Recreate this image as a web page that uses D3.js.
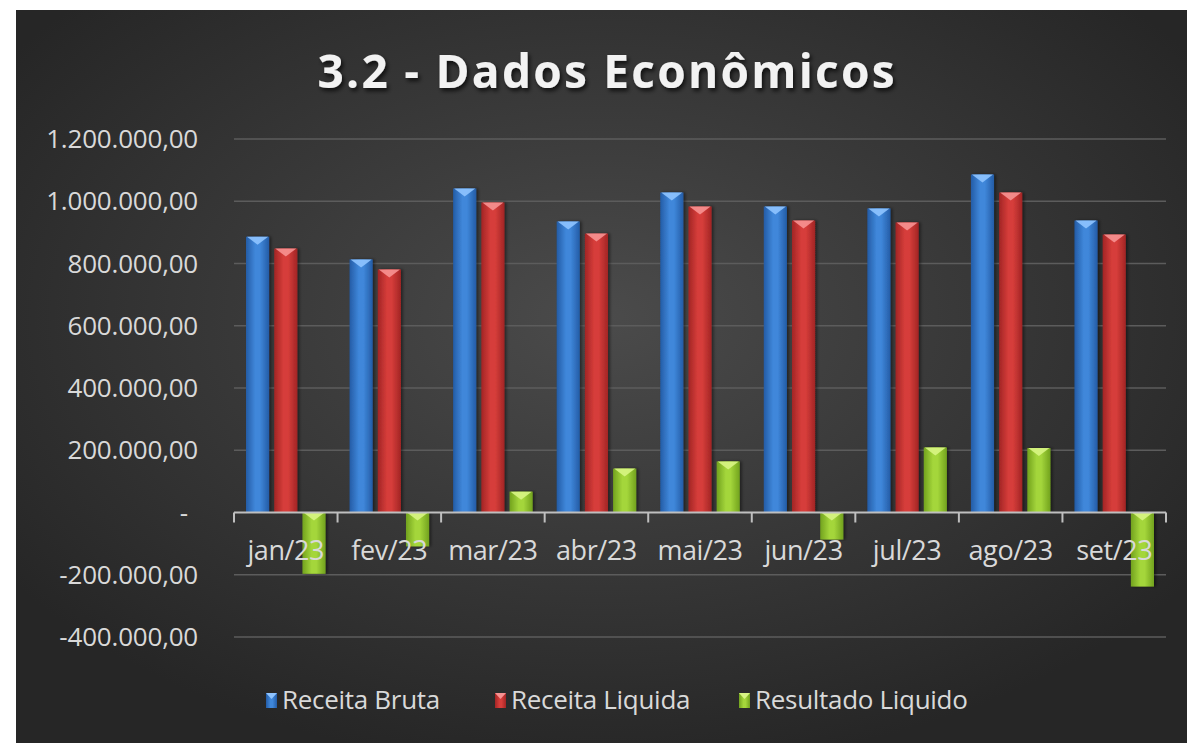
<!DOCTYPE html>
<html>
<head>
<meta charset="utf-8">
<script src="https://cdn.jsdelivr.net/npm/d3@7"></script>
<style>
  body { margin: 0; background: #fff; }
  svg { display: block; }
</style>
</head>
<body>
<div id="vis"></div>
<script>
var width = 1187,
	height = 743;

// data
var months = ['jan/23', 'fev/23', 'mar/23', 'abr/23', 'mai/23', 'jun/23', 'jul/23', 'ago/23', 'set/23'];
var seriesNames = ['Receita Bruta', 'Receita Liquida', 'Resultado Liquido'];
var receitaBruta = [886000, 813000, 1041000, 935000, 1028000, 983000, 977000, 1086000, 938000];
var receitaLiquida = [848000, 781000, 996000, 896000, 983000, 938000, 932000, 1028000, 893000];
var resultadoLiquido = [-197000, -109000, 67000, 141000, 164000, -87000, 209000, 207000, -238000];
var yTicks = [-400000, -200000, 0, 200000, 400000, 600000, 800000, 1000000, 1200000];
var yTickLabels = ['-400.000,00', '-200.000,00', '-', '200.000,00', '400.000,00', '600.000,00', '800.000,00', '1.000.000,00', '1.200.000,00'];

var seriesValues = [receitaBruta, receitaLiquida, resultadoLiquido];

var colors = [
	{ edge: '#245ca6', mid: '#3f87da', top: '#8fc4ff' },
	{ edge: '#a22525', mid: '#d63d3a', top: '#f79292' },
	{ edge: '#72a21e', mid: '#a4d63b', top: '#d8f584' }
];

var margin = { left: 234, right: 21, top: 139, bottom: 106 };

var svg = d3.select('#vis')
	.append('svg')
	.attr('width', width)
	.attr('height', height);

var defs = svg.append('defs');

var bg = defs.append('radialGradient')
	.attr('id', 'bg')
	.attr('cx', '50%').attr('cy', '42%').attr('r', '62%');
bg.append('stop').attr('offset', '0%').attr('stop-color', '#4b4b4b');
bg.append('stop').attr('offset', '100%').attr('stop-color', '#262626');

colors.forEach(function(c, i) {
	var lg = defs.append('linearGradient')
		.attr('id', 'bar' + i)
		.attr('x1', '0%').attr('x2', '100%').attr('y1', '0%').attr('y2', '0%');
	lg.append('stop').attr('offset', '0%').attr('stop-color', c.edge);
	lg.append('stop').attr('offset', '40%').attr('stop-color', c.mid);
	lg.append('stop').attr('offset', '60%').attr('stop-color', c.mid);
	lg.append('stop').attr('offset', '100%').attr('stop-color', c.edge);
});

var shadow = defs.append('filter').attr('id', 'shadow')
	.attr('x', '-10%').attr('y', '-20%').attr('width', '120%').attr('height', '150%');
shadow.append('feDropShadow')
	.attr('dx', 2).attr('dy', 3).attr('stdDeviation', 2)
	.attr('flood-color', '#000').attr('flood-opacity', 0.7);

var barShadow = defs.append('filter').attr('id', 'barShadow')
	.attr('x', '-30%').attr('y', '-5%').attr('width', '160%').attr('height', '110%');
barShadow.append('feDropShadow')
	.attr('dx', 2).attr('dy', 0).attr('stdDeviation', 1.5)
	.attr('flood-color', '#000').attr('flood-opacity', 0.45);

svg.append('rect')
	.attr('x', 16).attr('y', 10)
	.attr('width', width - 16).attr('height', height - 10)
	.attr('fill', 'url(#bg)');

var xScale = d3.scaleBand()
	.domain(months)
	.range([margin.left, width - margin.right])
	.paddingInner(0)
	.paddingOuter(0);

var inner = d3.scaleBand()
	.domain(d3.range(seriesNames.length))
	.range([12, xScale.bandwidth() - 12])
	.paddingInner(0.18);

var yScale = d3.scaleLinear()
	.domain([-400000, 1200000])
	.range([height - margin.bottom, margin.top]);

// gridlines
svg.append('g')
	.selectAll('line')
	.data(yTicks.filter(function(d) { return d !== 0; }))
	.enter().append('line')
	.attr('x1', margin.left)
	.attr('x2', width - margin.right)
	.attr('y1', function(d) { return yScale(d); })
	.attr('y2', function(d) { return yScale(d); })
	.attr('stroke', '#5c5c5c')
	.attr('stroke-width', 1.5);

// y labels
svg.append('g')
	.selectAll('text')
	.data(yTicks)
	.enter().append('text')
	.attr('x', function(d) { return d === 0 ? 188 : 198; })
	.attr('y', function(d) { return yScale(d); })
	.attr('dy', '0.35em')
	.attr('text-anchor', 'end')
	.attr('fill', '#d9d9d9')
	.attr('font-family', 'Open Sans, sans-serif')
	.attr('font-size', 26)
	.style('letter-spacing', '-0.2px')
	.text(function(d, i) { return yTickLabels[i]; });

// bars
var groups = svg.append('g')
	.selectAll('g')
	.data(seriesValues)
	.enter().append('g');

var bars = groups.selectAll('g')
	.data(function(vals, si) { return vals.map(function(v, mi) { return { s: si, m: mi, v: v }; }); })
	.enter().append('g')
	.attr('filter', 'url(#barShadow)');

bars.append('rect')
	.attr('x', function(d) { return xScale(months[d.m]) + inner(d.s); })
	.attr('y', function(d) { return yScale(Math.max(0, d.v)); })
	.attr('width', inner.bandwidth())
	.attr('height', function(d) { return Math.abs(yScale(d.v) - yScale(0)); })
	.attr('fill', function(d) { return 'url(#bar' + d.s + ')'; });

bars.append('path')
	.attr('d', function(d) {
		var x = xScale(months[d.m]) + inner(d.s),
			y = yScale(Math.max(0, d.v)),
			w = inner.bandwidth();
		return 'M' + (x + 1) + ',' + y + 'L' + (x + w - 1) + ',' + y + 'L' + (x + w / 2) + ',' + (y + 8) + 'Z';
	})
	.attr('fill', function(d) { return colors[d.s].top; })
	.attr('opacity', 0.9);

// x axis line with ticks
var axisY = yScale(0);
svg.append('line')
	.attr('x1', margin.left).attr('x2', width - margin.right)
	.attr('y1', axisY).attr('y2', axisY)
	.attr('stroke', '#bfbfbf').attr('stroke-width', 2);

svg.append('g')
	.selectAll('line')
	.data(months.concat(['end']))
	.enter().append('line')
	.attr('x1', function(d, i) { return i < months.length ? xScale(d) : width - margin.right; })
	.attr('x2', function(d, i) { return i < months.length ? xScale(d) : width - margin.right; })
	.attr('y1', axisY)
	.attr('y2', axisY + 10)
	.attr('stroke', '#bfbfbf').attr('stroke-width', 2);

// x labels
svg.append('g')
	.selectAll('text')
	.data(months)
	.enter().append('text')
	.attr('x', function(d) { return xScale(d) + xScale.bandwidth() / 2; })
	.attr('y', 560)
	.attr('text-anchor', 'middle')
	.attr('fill', '#d9d9d9')
	.attr('font-family', 'Open Sans, sans-serif')
	.attr('font-size', 27)
	.style('letter-spacing', '-0.4px')
	.text(function(d) { return d; });

// title
svg.append('text')
	.attr('x', 606)
	.attr('y', 88)
	.attr('text-anchor', 'middle')
	.attr('fill', '#f2f2f2')
	.attr('font-family', 'Open Sans, sans-serif')
	.attr('font-weight', 'bold')
	.attr('font-size', 46)
	.attr('textLength', 577)
	.attr('lengthAdjust', 'spacing')
	.attr('filter', 'url(#shadow)')
	.text('3.2 - Dados Econômicos');

// legend
var legendX = [266, 495, 739];
var legend = svg.append('g')
	.selectAll('g')
	.data(seriesNames)
	.enter().append('g')
	.attr('transform', function(d, i) { return 'translate(' + legendX[i] + ',700)'; });

legend.append('rect')
	.attr('x', 0).attr('y', -7)
	.attr('width', 11).attr('height', 15)
	.attr('fill', function(d, i) { return 'url(#bar' + i + ')'; });

legend.append('path')
	.attr('d', 'M0,-7L11,-7L5.5,-1Z')
	.attr('fill', function(d, i) { return colors[i].top; });

legend.append('text')
	.attr('x', 16)
	.attr('y', 0)
	.attr('dy', '0.35em')
	.attr('fill', '#d9d9d9')
	.attr('font-family', 'Open Sans, sans-serif')
	.attr('font-size', 26)
	.style('letter-spacing', '-0.3px')
	.text(function(d) { return d; });
</script>
</body>
</html>
